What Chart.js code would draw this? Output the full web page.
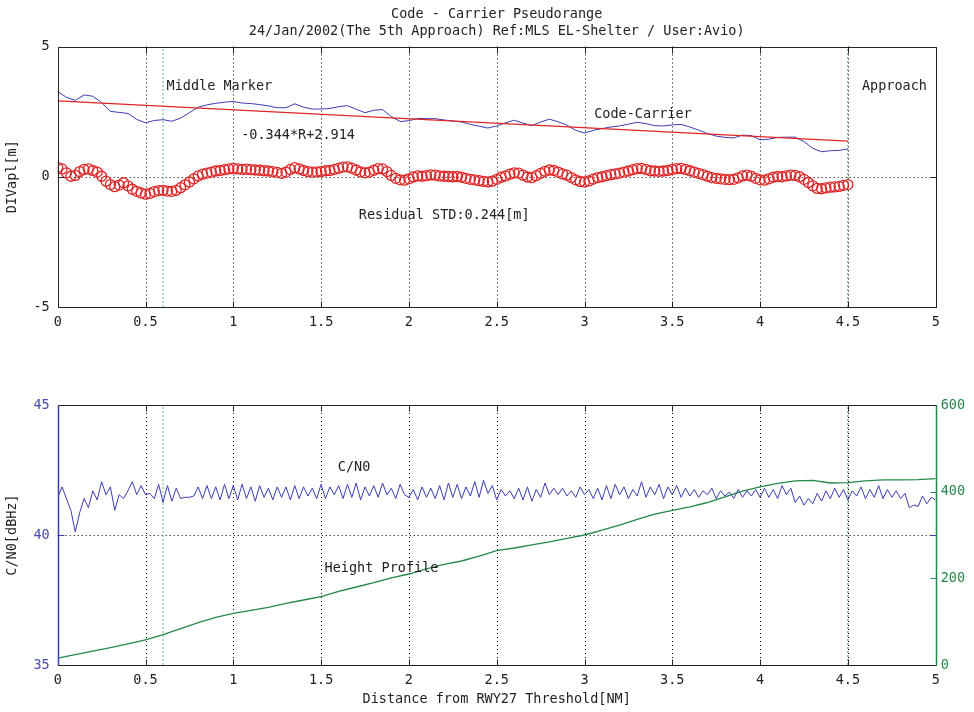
<!DOCTYPE html>
<html>
<head>
<meta charset="utf-8">
<script src="https://cdn.jsdelivr.net/npm/chart.js@4.4.1/dist/chart.umd.min.js"></script>
<style>
  html, body { margin: 0; padding: 0; background: #fff; }
  #wrap { position: relative; width: 974px; height: 712px; overflow: hidden; background: #fff; }
  #topChart { position: absolute; left: 0; top: 0; }
  #bottomChart { position: absolute; left: 0; top: 360px; }
</style>
</head>
<body>
<div id="wrap">
  <canvas id="topChart" width="974" height="340" style="width:974px;height:340px"></canvas>
  <canvas id="bottomChart" width="974" height="352" style="width:974px;height:352px"></canvas>
</div>
<script>
// ---- data ----------------------------------------------------------------
const TITLE_LINES = [
  "Code - Carrier Pseudorange",
  "24/Jan/2002(The 5th Approach) Ref:MLS EL-Shelter / User:Avio)"
];
const X_TITLE = "Distance from RWY27 Threshold[NM]";
const Y_TITLE_TOP = "DIVapl[m]";
const Y_TITLE_BOTTOM = "C/N0[dBHz]";

const X_TICKS = [0, 0.5, 1, 1.5, 2, 2.5, 3, 3.5, 4, 4.5, 5];
const DIVAPL_TICKS = [-5, 0, 5];
const CN0_TICKS = [35, 40, 45];
const HEIGHT_TICKS = [0, 200, 400, 600];

const MIDDLE_MARKER_NM = 0.6;
const APPROACH_NM = 4.5;

// linear fit of code-carrier: -0.344*R+2.914
const FIT_SLOPE = -0.344;
const FIT_INTERCEPT = 2.914;
const FIT_RANGE = [0, 4.5];

// code - carrier [m], every 0.05 NM from 0 to 4.5
const CC_START = 0, CC_STEP = 0.05;
const CODE_CARRIER = [
  3.27,3.05,2.93,3.14,3.09,2.85,2.51,2.47,2.43,2.20,
  2.07,2.16,2.19,2.13,2.25,2.46,2.67,2.76,2.82,2.86,
  2.89,2.83,2.81,2.77,2.72,2.65,2.65,2.80,2.67,2.60,
  2.60,2.62,2.69,2.73,2.59,2.46,2.55,2.58,2.31,2.12,
  2.15,2.24,2.23,2.23,2.18,2.14,2.10,2.01,1.94,1.87,
  1.95,2.07,2.17,2.06,1.96,2.10,2.21,2.11,1.98,1.78,
  1.68,1.78,1.85,1.91,1.95,2.02,2.09,2.04,1.96,1.95,
  1.99,2.01,1.91,1.79,1.66,1.56,1.51,1.49,1.60,1.58,
  1.42,1.44,1.51,1.52,1.52,1.35,1.09,0.96,1.00,1.01,
  1.07
];

// residual from the fit [m], every 0.025 NM from 0 to 4.5
const RES_START = 0, RES_STEP = 0.025;
const RESIDUAL = [
  0.36,0.30,0.15,0.02,0.05,0.20,0.28,0.30,0.24,0.18,
  0.02,-0.17,-0.30,-0.38,-0.32,-0.23,-0.35,-0.48,-0.56,-0.62,
  -0.67,-0.64,-0.57,-0.53,-0.52,-0.55,-0.56,-0.52,-0.42,-0.31,
  -0.20,-0.08,0.03,0.10,0.14,0.18,0.22,0.24,0.27,0.30,
  0.32,0.30,0.28,0.29,0.27,0.26,0.25,0.23,0.22,0.20,
  0.17,0.13,0.18,0.28,0.35,0.30,0.24,0.20,0.18,0.19,
  0.20,0.23,0.24,0.28,0.33,0.37,0.38,0.33,0.26,0.19,
  0.15,0.18,0.25,0.31,0.30,0.20,0.05,-0.06,-0.12,-0.13,
  -0.08,-0.01,0.03,0.02,0.04,0.07,0.06,0.03,0.02,0.01,
  0.00,0.01,-0.02,-0.06,-0.10,-0.12,-0.15,-0.18,-0.20,-0.17,
  -0.10,-0.02,0.03,0.10,0.15,0.14,0.06,-0.01,-0.03,0.04,
  0.13,0.21,0.26,0.24,0.18,0.11,0.06,-0.03,-0.12,-0.18,
  -0.20,-0.16,-0.09,-0.03,0.00,0.04,0.08,0.11,0.14,0.18,
  0.22,0.27,0.31,0.32,0.28,0.23,0.22,0.21,0.22,0.24,
  0.28,0.31,0.32,0.28,0.23,0.18,0.13,0.08,0.02,-0.03,
  -0.06,-0.08,-0.10,-0.11,-0.10,-0.04,0.03,0.06,0.02,-0.06,
  -0.12,-0.13,-0.08,-0.02,0.01,0.00,0.03,0.06,0.05,0.00,
  -0.10,-0.22,-0.35,-0.45,-0.46,-0.43,-0.40,-0.39,-0.37,-0.33,
  -0.30
];

// C/N0 [dBHz], every 0.025 NM from 0 to 5
const CN0_START = 0, CN0_STEP = 0.025;
const CN0 = [
  41.45,41.85,41.40,40.95,40.12,40.85,41.40,41.05,41.70,41.35,
  42.05,41.55,41.85,40.95,41.55,41.40,41.70,42.05,41.55,41.90,
  41.55,41.60,41.40,41.95,41.25,41.90,41.30,41.80,41.40,41.45,
  41.45,41.50,41.85,41.40,41.90,41.40,41.85,41.35,41.95,41.40,
  41.90,41.35,41.95,41.40,41.85,41.30,41.90,41.45,41.80,41.35,
  41.85,41.45,41.85,41.35,41.90,41.40,41.85,41.50,41.80,41.40,
  41.95,41.40,41.85,41.55,41.90,41.40,41.95,41.45,42.00,41.35,
  41.85,41.50,41.90,41.45,42.00,41.55,41.80,41.40,41.95,41.55,
  41.45,41.75,41.35,41.85,41.45,41.80,41.40,41.90,41.35,42.00,
  41.45,41.95,41.40,41.85,41.50,42.05,41.45,42.10,41.60,41.90,
  41.35,41.75,41.50,41.70,41.40,41.80,41.35,41.85,41.30,41.75,
  41.45,42.00,41.55,41.80,41.55,41.80,41.50,41.70,41.45,41.85,
  41.55,41.75,41.40,41.80,41.35,41.90,41.40,41.95,41.55,41.85,
  41.40,41.75,41.50,42.05,41.45,41.85,41.55,41.95,41.40,41.85,
  41.55,41.90,41.45,41.80,41.50,41.75,41.45,41.70,41.55,41.80,
  41.40,41.70,41.50,41.65,41.40,41.75,41.45,41.70,41.50,41.75,
  41.45,41.80,41.45,41.75,41.40,41.90,41.55,41.80,41.25,41.50,
  41.15,41.40,41.20,41.60,41.30,41.70,41.40,41.80,41.45,41.75,
  41.35,41.70,41.50,41.85,41.40,41.75,41.45,41.90,41.40,41.75,
  41.45,41.70,41.40,41.60,41.05,41.15,41.10,41.50,41.20,41.45,
  41.35
];

// height profile [ft], every 0.1 NM from 0 to 5
const HEIGHT_START = 0, HEIGHT_STEP = 0.1;
const HEIGHT = [
  16,24,32,40,49,58,70,84,98,110,
  119,126,133,142,150,158,170,180,190,201,
  210,222,232,240,251,264,270,277,284,292,
  300,311,323,336,348,357,365,375,388,401,
  411,419,425,426,420,421,425,427,427,428,
  430
];

// ---- styling -------------------------------------------------------------
const FONT = "'DejaVu Sans Mono', 'Liberation Mono', monospace";
const FONT_SIZE = 13.5;
const BLUE = '#3c3cb4';
const RED = '#e02424';
const GREEN = '#23884a';
const MARKER_GREEN = '#5cc08a';
const INK = '#222222';

Chart.defaults.font.family = FONT;
Chart.defaults.font.size = FONT_SIZE;
Chart.defaults.color = INK;
Chart.defaults.animation = false;

// pair sample distances with a value list
function series(start, step, values) {
  return values.map((v, i) => ({ x: +(start + i * step).toFixed(4), y: v }));
}

function fixedTicks(list) {
  return function (scale) { scale.ticks = list.map(v => ({ value: v })); };
}

const plainLabel = v => String(v);

function vertical(xVal, yMin, yMax, color) {
  return {
    data: [{ x: xVal, y: yMin }, { x: xVal, y: yMax }],
    borderColor: color, borderWidth: 1, borderDash: [2, 2],
    pointRadius: 0, showLine: true, fill: false, order: 10
  };
}

// grid, box, inward ticks and notes drawn through the chart's scales
function framePlugin(cfg) {
  return {
    id: 'frame_' + cfg.name,
    beforeDatasetsDraw(chart) {
      const { ctx, chartArea: a, scales } = chart;
      const xs = scales.x, ys = scales.y;
      ctx.save();
      ctx.strokeStyle = '#000';
      ctx.lineWidth = 1;
      ctx.setLineDash([1, 3]);
      X_TICKS.forEach(v => {
        if (v <= xs.min || v >= xs.max) return;
        const px = Math.round(xs.getPixelForValue(v)) + 0.5;
        ctx.beginPath(); ctx.moveTo(px, a.top); ctx.lineTo(px, a.bottom); ctx.stroke();
      });
      cfg.yTicks.forEach(v => {
        if (v <= ys.min || v >= ys.max) return;
        const py = Math.round(ys.getPixelForValue(v)) + 0.5;
        ctx.beginPath(); ctx.moveTo(a.left, py); ctx.lineTo(a.right, py); ctx.stroke();
      });
      ctx.restore();
    },
    afterDatasetsDraw(chart) {
      const { ctx, chartArea: a, scales } = chart;
      const xs = scales.x, ys = scales.y;
      const L = Math.round(a.left) + 0.5, R = Math.round(a.right) + 0.5;
      const T = Math.round(a.top) + 0.5, B = Math.round(a.bottom) + 0.5;
      const TL = 6;
      ctx.save();
      ctx.setLineDash([]);
      ctx.lineWidth = 1;
      // inward x ticks
      ctx.strokeStyle = INK;
      X_TICKS.forEach(v => {
        const px = Math.round(xs.getPixelForValue(v)) + 0.5;
        ctx.beginPath(); ctx.moveTo(px, B); ctx.lineTo(px, B - TL); ctx.stroke();
        ctx.beginPath(); ctx.moveTo(px, T); ctx.lineTo(px, T + TL); ctx.stroke();
      });
      // left-axis ticks on both sides
      ctx.strokeStyle = cfg.leftColor;
      cfg.yTicks.forEach(v => {
        const py = Math.round(ys.getPixelForValue(v)) + 0.5;
        ctx.beginPath(); ctx.moveTo(L, py); ctx.lineTo(L + TL, py); ctx.stroke();
        ctx.beginPath(); ctx.moveTo(R, py); ctx.lineTo(R - TL, py); ctx.stroke();
      });
      // right-axis ticks
      if (cfg.rightTicks) {
        const yr = scales.yR;
        ctx.strokeStyle = cfg.rightColor;
        cfg.rightTicks.forEach(v => {
          const py = Math.round(yr.getPixelForValue(v)) + 0.5;
          ctx.beginPath(); ctx.moveTo(R, py); ctx.lineTo(R - TL, py); ctx.stroke();
        });
      }
      // box
      ctx.strokeStyle = INK;
      ctx.beginPath(); ctx.moveTo(L, T); ctx.lineTo(R, T); ctx.stroke();
      ctx.beginPath(); ctx.moveTo(L, B); ctx.lineTo(R, B); ctx.stroke();
      ctx.lineWidth = cfg.rightTicks ? 1.5 : 1;
      ctx.strokeStyle = cfg.leftColor;
      ctx.beginPath(); ctx.moveTo(L, T); ctx.lineTo(L, B); ctx.stroke();
      ctx.strokeStyle = cfg.rightColor;
      ctx.beginPath(); ctx.moveTo(R, T); ctx.lineTo(R, B); ctx.stroke();
      // notes on the plot
      ctx.fillStyle = INK;
      ctx.font = FONT_SIZE + 'px ' + FONT;
      ctx.textBaseline = 'middle';
      ctx.textAlign = 'left';
      cfg.notes.forEach(n => {
        ctx.fillText(n.text, xs.getPixelForValue(n.x), ys.getPixelForValue(n.y));
      });
      // figure title
      if (cfg.title) {
        ctx.textAlign = 'center';
        const cx = (a.left + a.right) / 2;
        ctx.fillText(cfg.title[0], cx, a.top - 32);
        ctx.fillText(cfg.title[1], cx, a.top - 15);
      }
      ctx.restore();
    }
  };
}

const fitLine = FIT_RANGE.map(r => ({ x: r, y: FIT_SLOPE * r + FIT_INTERCEPT }));

// ---- top chart: code - carrier -------------------------------------------
new Chart(document.getElementById('topChart'), {
  type: 'scatter',
  data: {
    datasets: [
      vertical(MIDDLE_MARKER_NM, -5, 5, MARKER_GREEN),
      vertical(APPROACH_NM, -5, 5, '#3f9a66'),
      {
        label: 'Residual',
        data: series(RES_START, RES_STEP, RESIDUAL),
        showLine: false, pointStyle: 'circle', pointRadius: 5,
        pointBorderWidth: 1.3, pointBorderColor: RED,
        pointBackgroundColor: 'rgba(0,0,0,0)', order: 3
      },
      {
        label: 'Code-Carrier',
        data: series(CC_START, CC_STEP, CODE_CARRIER),
        showLine: true, borderColor: BLUE, borderWidth: 1,
        pointRadius: 0, tension: 0, order: 2
      },
      {
        label: 'Fit',
        data: fitLine,
        showLine: true, borderColor: RED, borderWidth: 1.2,
        pointRadius: 0, order: 1
      }
    ]
  },
  options: {
    responsive: false,
    layout: { padding: { top: 46.5, right: 38.3, left: 0, bottom: 0 } },
    plugins: { legend: { display: false }, tooltip: { enabled: false }, title: { display: false } },
    scales: {
      x: {
        type: 'linear', min: 0, max: 5,
        afterBuildTicks: fixedTicks(X_TICKS),
        afterFit(s) { s.height = 33; },
        grid: { display: false, drawTicks: false },
        border: { display: false },
        ticks: { padding: 7, color: INK, maxRotation: 0, autoSkip: false, callback: plainLabel }
      },
      y: {
        type: 'linear', min: -5, max: 5,
        afterBuildTicks: fixedTicks(DIVAPL_TICKS),
        afterFit(s) { s.width = 57.7; },
        grid: { display: false, drawTicks: false },
        border: { display: false },
        ticks: { padding: 8, color: INK, callback: plainLabel },
        title: { display: true, text: Y_TITLE_TOP, color: INK, padding: { top: 4, bottom: 4 } }
      }
    }
  },
  plugins: [framePlugin({
    name: 'top', yTicks: DIVAPL_TICKS, leftColor: INK, rightColor: INK,
    title: TITLE_LINES,
    notes: [
      { text: 'Middle Marker', x: 0.62, y: 3.45 },
      { text: 'Approach', x: 4.58, y: 3.45 },
      { text: 'Code-Carrier', x: 3.055, y: 2.38 },
      { text: '-0.344*R+2.914', x: 1.045, y: 1.6 },
      { text: 'Residual STD:0.244[m]', x: 1.715, y: -1.48 }
    ]
  })]
});

// ---- bottom chart: C/N0 and height profile -------------------------------
new Chart(document.getElementById('bottomChart'), {
  type: 'scatter',
  data: {
    datasets: [
      vertical(MIDDLE_MARKER_NM, 35, 45, MARKER_GREEN),
      vertical(APPROACH_NM, 35, 45, '#3f9a66'),
      {
        label: 'C/N0',
        data: series(CN0_START, CN0_STEP, CN0),
        showLine: true, borderColor: BLUE, borderWidth: 1,
        pointRadius: 0, yAxisID: 'y', order: 2
      },
      {
        label: 'Height Profile',
        data: series(HEIGHT_START, HEIGHT_STEP, HEIGHT),
        showLine: true, borderColor: GREEN, borderWidth: 1.3,
        pointRadius: 0, yAxisID: 'yR', order: 1
      }
    ]
  },
  options: {
    responsive: false,
    layout: { padding: { top: 45, right: 0, left: 0, bottom: 0 } },
    plugins: { legend: { display: false }, tooltip: { enabled: false }, title: { display: false } },
    scales: {
      x: {
        type: 'linear', min: 0, max: 5,
        afterBuildTicks: fixedTicks(X_TICKS),
        afterFit(s) { s.height = 47; },
        grid: { display: false, drawTicks: false },
        border: { display: false },
        ticks: { padding: 7, color: INK, maxRotation: 0, autoSkip: false, callback: plainLabel },
        title: { display: true, text: X_TITLE, color: INK, padding: { top: 4, bottom: 4 } }
      },
      y: {
        type: 'linear', position: 'left', min: 35, max: 45,
        afterBuildTicks: fixedTicks(CN0_TICKS),
        afterFit(s) { s.width = 57.7; },
        grid: { display: false, drawTicks: false },
        border: { display: false },
        ticks: { padding: 8, color: '#4a4ab8', callback: plainLabel },
        title: { display: true, text: Y_TITLE_BOTTOM, color: INK, padding: { top: 4, bottom: 4 } }
      },
      yR: {
        type: 'linear', position: 'right', min: 0, max: 600,
        afterBuildTicks: fixedTicks(HEIGHT_TICKS),
        afterFit(s) { s.width = 38.3; },
        grid: { display: false, drawTicks: false },
        border: { display: false },
        ticks: { padding: 5, color: GREEN, callback: plainLabel }
      }
    }
  },
  plugins: [framePlugin({
    name: 'bottom', yTicks: CN0_TICKS, leftColor: BLUE, rightColor: GREEN,
    rightTicks: HEIGHT_TICKS,
    notes: [
      { text: 'C/N0', x: 1.595, y: 42.58 },
      { text: 'Height Profile', x: 1.52, y: 38.73 }
    ]
  })]
});
</script>
</body>
</html>
